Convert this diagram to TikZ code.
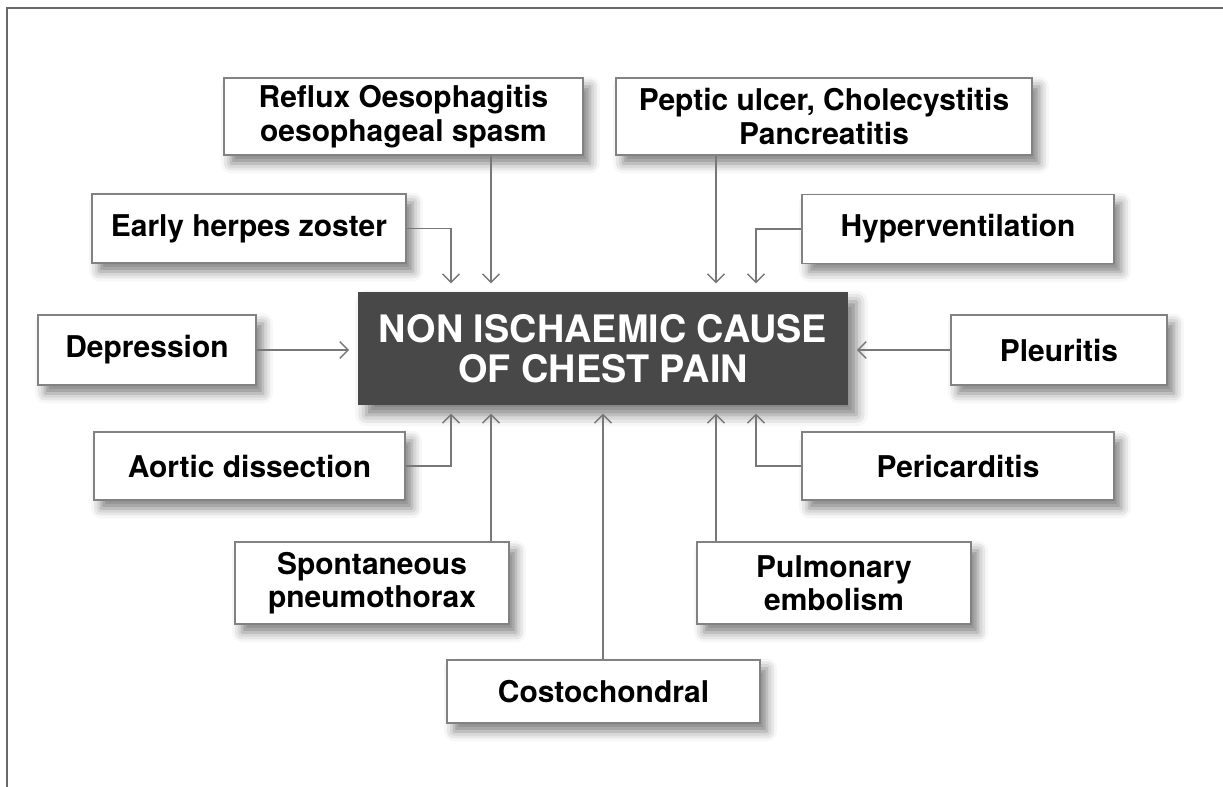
\documentclass[tikz,border=0pt]{standalone}
\usepackage{fontspec}
\setmainfont{TeX Gyre Heros}
\usetikzlibrary{arrows.meta,shadows.blur}

\begin{document}
\begin{tikzpicture}[x=0.025cm, y=-0.025cm,
  cause/.style={draw=boxline, line width=0.9pt, fill=white, align=center,
    font=\fontsize{21.3}{23.8}\selectfont\bfseries, inner sep=0pt,
    blur shadow={shadow xshift=5pt, shadow yshift=-6pt, shadow blur radius=7pt, shadow opacity=50}},
  link/.style={draw=linkcolor, line width=1pt, shorten >=6pt,
    -{Straight Barb[length=6pt, width=12pt, line width=1pt]}}]

\definecolor{boxline}{RGB}{130, 130, 130}
\definecolor{linkcolor}{RGB}{120, 120, 120}
\definecolor{corecolor}{RGB}{72, 72, 72}
\definecolor{framecolor}{RGB}{105, 105, 105}

\useasboundingbox (0, 0) rectangle (1223, 787);
\draw[framecolor, line width=1.4pt] (7, 800) -- (7, 8) -- (1240, 8);

\node[fill=corecolor, text=white, align=center, inner sep=0pt,
  minimum width=12.25cm, minimum height=2.825cm,
  font=\fontsize{26.9}{28.6}\selectfont\bfseries,
  blur shadow={shadow xshift=6pt, shadow yshift=-7pt, shadow blur radius=8pt, shadow opacity=50}]
  (core) at (603, 348.5) {NON ISCHAEMIC CAUSE\\OF CHEST PAIN};

\node[cause, minimum width=8.975cm, minimum height=1.925cm] (reflux) at (403.5, 116.5) {Reflux Oesophagitis\\oesophageal spasm};
\node[cause, minimum width=10.4cm, minimum height=1.925cm] (peptic) at (824, 116.5) {Peptic ulcer, Cholecystitis\\Pancreatitis};
\node[cause, minimum width=7.85cm, minimum height=1.725cm] (herpes) at (249, 228.5) {Early herpes zoster};
\node[cause, minimum width=7.8cm, minimum height=1.725cm] (hyper) at (958, 229) {Hyperventilation};
\node[cause, minimum width=5.45cm, minimum height=1.75cm] (depr) at (147, 350) {Depression};
\node[cause, minimum width=5.4cm, minimum height=1.75cm] (pleur) at (1059, 350) {Pleuritis};
\node[cause, minimum width=7.775cm, minimum height=1.7cm] (aortic) at (249.5, 466) {Aortic dissection};
\node[cause, minimum width=7.8cm, minimum height=1.7cm] (peric) at (958, 466) {Pericarditis};
\node[cause, minimum width=6.85cm, minimum height=2.05cm] (spont) at (372, 583) {Spontaneous\\pneumothorax};
\node[cause, minimum width=6.85cm, minimum height=2.05cm] (pulm) at (834, 583) {Pulmonary\\embolism};
\node[cause, minimum width=7.825cm, minimum height=1.575cm] (costo) at (603.5, 691.5) {Costochondral};

% columns where the arrows meet the core box
\coordinate (xa) at (451, 0);
\coordinate (xb) at (491, 0);
\coordinate (xc) at (603, 0);
\coordinate (xd) at (716, 0);
\coordinate (xe) at (756, 0);

\draw[link] (reflux.south -| xb) -- (xb |- core.north);
\draw[link] (peptic.south -| xd) -- (xd |- core.north);
\draw[link] (herpes.east) -| (xa |- core.north);
\draw[link] (hyper.west) -| (xe |- core.north);
\draw[link] (depr.east) -- (depr.east -| core.west);
\draw[link] (pleur.west) -- (pleur.west -| core.east);
\draw[link] (aortic.east) -| (xa |- core.south);
\draw[link] (peric.west) -| (xe |- core.south);
\draw[link] (spont.north -| xb) -- (xb |- core.south);
\draw[link] (pulm.north -| xd) -- (xd |- core.south);
\draw[link] (costo.north -| xc) -- (xc |- core.south);

\end{tikzpicture}
\end{document}
